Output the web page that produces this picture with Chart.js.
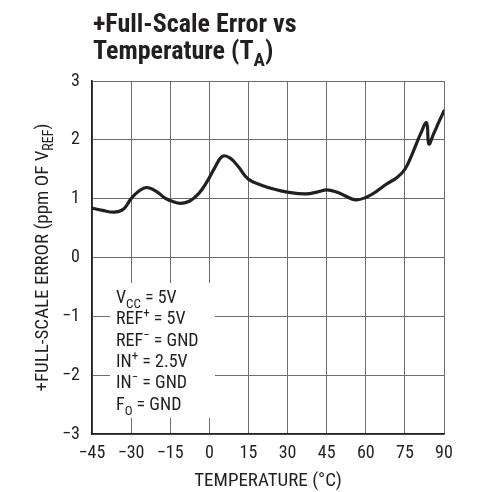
<!DOCTYPE html>
<html>
<head>
<meta charset="utf-8">
<script src="https://cdn.jsdelivr.net/npm/chart.js@4.4.1/dist/chart.umd.min.js"></script>
<style>
  html, body { margin: 0; padding: 0; background: #ffffff; }
  #wrap { width: 482px; height: 492px; position: relative; }
</style>
</head>
<body>
<div id="wrap"><canvas id="c" width="482" height="492"></canvas></div>
<script>
// ---- data ----
const tempC = [-45, -41, -36.5, -33, -30, -27, -24, -20.5, -17, -14, -11, -7.5, -4, -1, 2, 5, 8, 11, 15, 20, 25, 30, 37, 42, 45, 49, 52, 56, 60, 64, 68, 72, 75, 78, 81, 83.3, 84.2, 86, 88, 90];
const errorPpm = [0.84, 0.80, 0.77, 0.82, 1.0, 1.13, 1.19, 1.13, 1.01, 0.95, 0.92, 0.96, 1.09, 1.28, 1.52, 1.72, 1.69, 1.55, 1.33, 1.23, 1.16, 1.11, 1.08, 1.12, 1.15, 1.11, 1.05, 0.98, 1.02, 1.12, 1.25, 1.36, 1.5, 1.78, 2.1, 2.29, 1.93, 2.1, 2.3, 2.49];
const xTickValues = [-45, -30, -15, 0, 15, 30, 45, 60, 75, 90];
const xTickLabels = ['\u221245', '\u221230', '\u221215', '0', '15', '30', '45', '60', '75', '90'];
const yTickValues = [-3, -2, -1, 0, 1, 2, 3];
const yTickLabels = ['\u22123', '\u22122', '\u22121', '0', '1', '2', '3'];
const titleLine1 = '+Full-Scale Error vs';
const titleLine2 = [['Temperature (T', ''], ['A', 'sub'], [')', '']];
const xTitle = 'TEMPERATURE (\u00B0C)';
const yTitle = [['+FULL-SCALE ERROR (ppm OF V', ''], ['REF', 'sub'], [')', '']];
const conditions = [
  [['V', ''], ['CC', 'sub'], [' = 5V', '']],
  [['REF', ''], ['+', 'sup'], [' = 5V', '']],
  [['REF', ''], ['\u2212', 'sup'], [' = GND', '']],
  [['IN', ''], ['+', 'sup'], [' = 2.5V', '']],
  [['IN', ''], ['\u2212', 'sup'], [' = GND', '']],
  [['F', ''], ['O', 'sub'], [' = GND', '']]
];

const FAM = '"Liberation Sans Narrow", "Arial Narrow", "Roboto Condensed", "DejaVu Sans Condensed", sans-serif';
const INK = '#231f20';

function richWidth(ctx, parts, size, bold) {
  let w = 0;
  for (const [t, k] of parts) {
    ctx.font = (bold ? 'bold ' : '') + (k ? Math.round(size * 0.72) : size) + 'px ' + FAM;
    w += ctx.measureText(t).width;
  }
  return w;
}
function drawRich(ctx, parts, x, y, size, bold) {
  let cx = x;
  ctx.textBaseline = 'alphabetic';
  ctx.textAlign = 'left';
  for (const [t, k] of parts) {
    const s = k ? Math.round(size * 0.72) : size;
    ctx.font = (bold ? 'bold ' : '') + s + 'px ' + FAM;
    let dy = 0;
    if (k === 'sub') dy = size * 0.28;
    if (k === 'sup') dy = -size * 0.38;
    ctx.fillText(t, cx, y + dy);
    cx += ctx.measureText(t).width;
  }
}

const decor = {
  id: 'decor',
  beforeDatasetsDraw(chart) {
    const ctx = chart.ctx;
    const a = chart.chartArea;
    // white box behind conditions text (covers gridlines)
    ctx.save();
    ctx.fillStyle = '#ffffff';
    ctx.fillRect(a.left + 18, a.top + 202, 105, 135);
    ctx.restore();
  },
  afterDraw(chart) {
    const ctx = chart.ctx;
    const a = chart.chartArea;
    ctx.save();
    ctx.fillStyle = INK;
    // title
    ctx.font = 'bold 26px ' + FAM;
    ctx.textAlign = 'left';
    ctx.textBaseline = 'alphabetic';
    ctx.fillText(titleLine1, a.left + 1, 32);
    drawRich(ctx, titleLine2, a.left + 1, 59, 26, true);
    // conditions
    const baseY = a.top + 222;
    for (let i = 0; i < conditions.length; i++) {
      drawRich(ctx, conditions[i], a.left + 24, baseY + i * 21.3, 18, false);
    }
    // x title
    ctx.font = '19px ' + FAM;
    ctx.textAlign = 'center';
    ctx.textBaseline = 'middle';
    ctx.fillText(xTitle, (a.left + a.right) / 2, 481);
    // y title (rotated)
    const w = richWidth(ctx, yTitle, 19, false);
    ctx.translate(41, (a.top + a.bottom) / 2);
    ctx.rotate(-Math.PI / 2);
    drawRich(ctx, yTitle, -w / 2, 7, 19, false);
    ctx.restore();
  }
};

new Chart(document.getElementById('c'), {
  type: 'line',
  data: {
    datasets: [{
      data: tempC.map((t, i) => ({ x: t, y: errorPpm[i] })),
      borderColor: INK,
      borderWidth: 3.2,
      pointRadius: 0,
      tension: 0.4,
      fill: false,
      borderCapStyle: 'round',
      borderJoinStyle: 'round'
    }]
  },
  options: {
    responsive: false,
    animation: false,
    devicePixelRatio: 1,
    layout: { padding: { left: 0, top: 81, right: 38, bottom: 0 } },
    plugins: { legend: { display: false }, tooltip: { enabled: false }, title: { display: false } },
    scales: {
      x: {
        type: 'linear',
        min: -45, max: 90,
        afterBuildTicks: s => { s.ticks = xTickValues.map(v => ({ value: v })); },
        afterFit: s => { s.height = 58; },
        ticks: {
          padding: 9,
          color: INK,
          font: { family: FAM, size: 18 },
          maxRotation: 0,
          autoSkip: false,
          callback: v => xTickLabels[xTickValues.indexOf(v)]
        },
        grid: { color: '#6e6e6e', lineWidth: 1, drawTicks: false },
        border: { color: INK, width: 1.6 }
      },
      y: {
        type: 'linear',
        min: -3, max: 3,
        afterBuildTicks: s => { s.ticks = yTickValues.map(v => ({ value: v })); },
        afterFit: s => { s.width = 92; },
        ticks: {
          padding: 12,
          color: INK,
          font: { family: FAM, size: 18 },
          callback: v => yTickLabels[yTickValues.indexOf(v)]
        },
        grid: { color: '#6e6e6e', lineWidth: 1, drawTicks: false },
        border: { color: INK, width: 1.6 }
      }
    }
  },
  plugins: [decor]
});
</script>
</body>
</html>
